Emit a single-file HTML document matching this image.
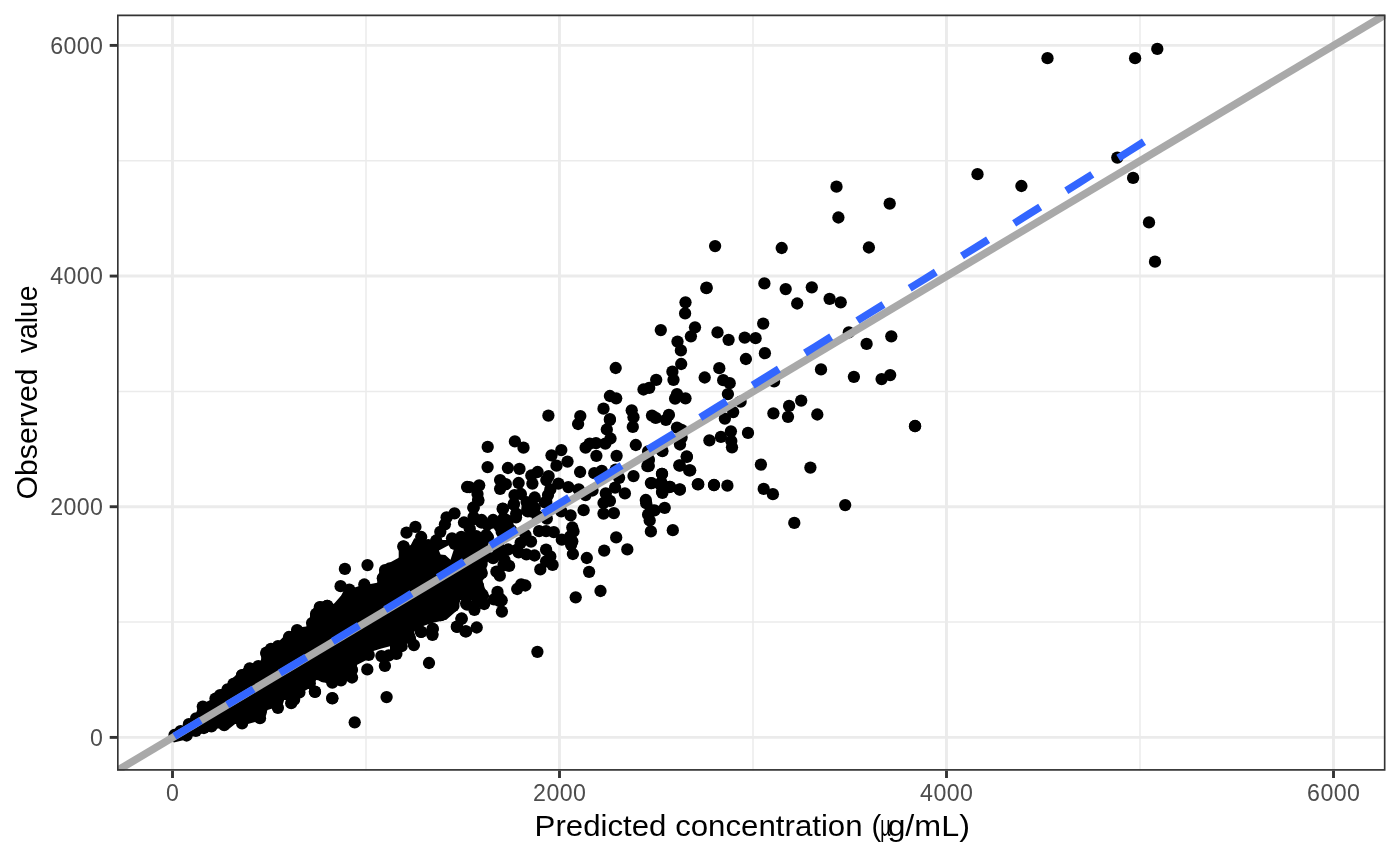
<!DOCTYPE html>
<html><head><meta charset="utf-8"><style>
html,body{margin:0;padding:0;background:#fff}
body{width:1400px;height:865px;overflow:hidden;font-family:"Liberation Sans",sans-serif}
svg{display:block;will-change:transform}
text{font-family:"Liberation Sans",sans-serif}
.t{font-size:23.2px;fill:#4d4d4d;letter-spacing:0.4px}
.ttl{font-size:29.3px;fill:#000}
</style></head><body>
<svg width="1400" height="865" viewBox="0 0 1400 865">
<rect width="1400" height="865" fill="#fff"/>
<defs><clipPath id="cp"><rect x="117.0" y="14.6" width="1268.5" height="756.1"/></clipPath></defs>
<g clip-path="url(#cp)">
<rect x="117.0" y="14.6" width="1268.5" height="756.1" fill="#fff"/>
<line x1="366.00" x2="366.00" y1="14.6" y2="770.7" stroke="#ebebeb" stroke-width="1.45"/>
<line y1="622.07" y2="622.07" x1="117.0" x2="1385.5" stroke="#ebebeb" stroke-width="1.45"/>
<line x1="753.00" x2="753.00" y1="14.6" y2="770.7" stroke="#ebebeb" stroke-width="1.45"/>
<line y1="391.40" y2="391.40" x1="117.0" x2="1385.5" stroke="#ebebeb" stroke-width="1.45"/>
<line x1="1140.00" x2="1140.00" y1="14.6" y2="770.7" stroke="#ebebeb" stroke-width="1.45"/>
<line y1="160.73" y2="160.73" x1="117.0" x2="1385.5" stroke="#ebebeb" stroke-width="1.45"/>
<line x1="172.50" x2="172.50" y1="14.6" y2="770.7" stroke="#ebebeb" stroke-width="2.9"/>
<line y1="737.40" y2="737.40" x1="117.0" x2="1385.5" stroke="#ebebeb" stroke-width="2.9"/>
<line x1="559.50" x2="559.50" y1="14.6" y2="770.7" stroke="#ebebeb" stroke-width="2.9"/>
<line y1="506.73" y2="506.73" x1="117.0" x2="1385.5" stroke="#ebebeb" stroke-width="2.9"/>
<line x1="946.50" x2="946.50" y1="14.6" y2="770.7" stroke="#ebebeb" stroke-width="2.9"/>
<line y1="276.07" y2="276.07" x1="117.0" x2="1385.5" stroke="#ebebeb" stroke-width="2.9"/>
<line x1="1333.50" x2="1333.50" y1="14.6" y2="770.7" stroke="#ebebeb" stroke-width="2.9"/>
<line y1="45.40" y2="45.40" x1="117.0" x2="1385.5" stroke="#ebebeb" stroke-width="2.9"/>
<g fill="#000">
<mask id="hm" maskUnits="userSpaceOnUse" x="0" y="0" width="1400" height="865"><rect width="1400" height="865" fill="#fff"/><polygon points="438.9,550.4 448.7,545.2 453.9,549.2 450.5,559.7 445.3,555.0 440.6,554.5" fill="#000"/></mask>
<g mask="url(#hm)"><polygon points="390.0,562.4 398.7,557.8 398.7,549.7 410.8,545.1 414.3,538.2 428.2,540.5 436.2,546.2 438.6,552.0 444.3,555.5 450.7,560.1 452.4,553.2 454.7,548.6 453.6,543.9 459.4,534.7 488.3,533.5 488.3,546.2 491.7,555.5 486.0,564.7 487.1,574.0 482.5,580.9 484.8,587.9 489.4,596.0 487.1,600.0 390.0,600.0"/><polygon points="390.0,600.0 459.4,600.0 454.7,609.2 445.5,617.3 433.9,622.0 424.7,625.4 416.6,626.6 413.1,634.7 403.9,642.8 400.4,648.6 396.9,654.3 390.0,657.8"/><polygon points="310.0,614.0 315.8,604.7 333.1,604.7 341.2,595.5 343.5,590.9 358.6,586.2 377.1,582.8 379.4,571.2 397.9,562.0 400.2,551.6 410.6,546.9 414.0,540.0 470.0,540.0 470.0,597.8 460.3,600.1 458.0,609.4 446.4,619.8 425.6,624.4 414.0,631.3 416.4,640.0 310.0,640.0"/><polygon points="230.0,680.9 236.9,674.0 246.2,665.9 260.1,662.4 262.4,655.5 264.7,649.7 276.2,643.9 285.5,634.7 295.9,627.7 306.3,626.6 308.6,619.7 313.2,611.6 317.9,605.8 330.6,603.5 341.0,604.6 342.1,600.0 390.0,600.0 390.0,646.2 381.4,648.6 373.4,650.9 371.0,657.8 357.2,664.7 354.9,674.0 343.3,683.2 331.7,685.5 321.3,680.9 315.5,679.8 314.4,685.5 304.0,691.3 301.7,696.0 294.7,700.0 230.0,700.0"/><polygon points="168.7,736.1 178.5,729.2 187.7,721.7 195.3,715.3 198.7,705.5 209.7,700.3 217.8,691.6 225.9,685.8 234.0,678.9 240.9,672.0 247.9,665.0 261.7,661.6 260.6,652.3 264.0,650.0 320.0,650.0 320.0,676.6 313.8,682.4 304.5,688.2 298.7,696.2 284.9,697.4 282.5,705.5 267.5,710.1 264.0,719.4 247.9,724.0 235.1,724.0 229.4,728.6 217.8,728.6 210.9,730.9 194.7,735.5 183.1,740.2 173.9,742.5"/></g>
<circle cx="332.3" cy="698.2" r="6.15"/>
<circle cx="354.7" cy="722.3" r="6.15"/>
<circle cx="477.9" cy="600.4" r="6.15"/>
<circle cx="662.4" cy="451.2" r="6.15"/>
<circle cx="686.7" cy="456.5" r="6.15"/>
<circle cx="679.8" cy="465.7" r="6.15"/>
<circle cx="648.6" cy="460.4" r="6.15"/>
<circle cx="647.4" cy="466.2" r="6.15"/>
<circle cx="633.5" cy="476.1" r="6.15"/>
<circle cx="662.0" cy="473.8" r="6.15"/>
<circle cx="690.2" cy="470.3" r="6.15"/>
<circle cx="650.9" cy="483.1" r="6.15"/>
<circle cx="661.3" cy="482.4" r="6.15"/>
<circle cx="669.4" cy="487.0" r="6.15"/>
<circle cx="679.8" cy="489.3" r="6.15"/>
<circle cx="698.3" cy="484.2" r="6.15"/>
<circle cx="714.0" cy="485.1" r="6.15"/>
<circle cx="662.4" cy="492.8" r="6.15"/>
<circle cx="467.1" cy="487.0" r="6.15"/>
<circle cx="646.2" cy="503.2" r="6.15"/>
<circle cx="664.7" cy="507.8" r="6.15"/>
<circle cx="650.9" cy="510.1" r="6.15"/>
<circle cx="649.7" cy="520.5" r="6.15"/>
<circle cx="650.9" cy="531.4" r="6.15"/>
<circle cx="672.8" cy="530.2" r="6.15"/>
<circle cx="572.3" cy="527.5" r="6.15"/>
<circle cx="553.8" cy="532.1" r="6.15"/>
<circle cx="616.2" cy="537.4" r="6.15"/>
<circle cx="604.2" cy="550.6" r="6.15"/>
<circle cx="627.3" cy="549.4" r="6.15"/>
<circle cx="572.3" cy="541.3" r="6.15"/>
<circle cx="561.8" cy="539.7" r="6.15"/>
<circle cx="571.1" cy="544.8" r="6.15"/>
<circle cx="572.9" cy="554.0" r="6.15"/>
<circle cx="550.3" cy="556.4" r="6.15"/>
<circle cx="586.8" cy="558.0" r="6.15"/>
<circle cx="552.6" cy="564.9" r="6.15"/>
<circle cx="589.1" cy="571.8" r="6.15"/>
<circle cx="501.7" cy="600.3" r="6.15"/>
<circle cx="600.5" cy="591.0" r="6.15"/>
<circle cx="575.7" cy="597.3" r="6.15"/>
<circle cx="685.5" cy="302.3" r="6.15"/>
<circle cx="685.1" cy="313.4" r="6.15"/>
<circle cx="660.8" cy="330.1" r="6.15"/>
<circle cx="695.0" cy="327.3" r="6.15"/>
<circle cx="690.9" cy="336.3" r="6.15"/>
<circle cx="677.5" cy="341.6" r="6.15"/>
<circle cx="680.9" cy="350.4" r="6.15"/>
<circle cx="717.5" cy="332.4" r="6.15"/>
<circle cx="728.6" cy="339.8" r="6.15"/>
<circle cx="744.7" cy="337.7" r="6.15"/>
<circle cx="755.6" cy="338.2" r="6.15"/>
<circle cx="763.2" cy="323.6" r="6.15"/>
<circle cx="797.2" cy="303.5" r="6.15"/>
<circle cx="829.6" cy="298.8" r="6.15"/>
<circle cx="840.7" cy="302.3" r="6.15"/>
<circle cx="848.8" cy="332.4" r="6.15"/>
<circle cx="866.6" cy="343.9" r="6.15"/>
<circle cx="891.3" cy="336.3" r="6.15"/>
<circle cx="764.9" cy="353.2" r="6.15"/>
<circle cx="745.9" cy="359.0" r="6.15"/>
<circle cx="719.3" cy="368.2" r="6.15"/>
<circle cx="681.2" cy="364.0" r="6.15"/>
<circle cx="672.4" cy="371.7" r="6.15"/>
<circle cx="673.5" cy="379.8" r="6.15"/>
<circle cx="656.2" cy="379.8" r="6.15"/>
<circle cx="649.2" cy="387.9" r="6.15"/>
<circle cx="643.5" cy="389.5" r="6.15"/>
<circle cx="704.7" cy="377.5" r="6.15"/>
<circle cx="723.2" cy="380.2" r="6.15"/>
<circle cx="729.7" cy="383.2" r="6.15"/>
<circle cx="727.9" cy="394.1" r="6.15"/>
<circle cx="774.1" cy="381.4" r="6.15"/>
<circle cx="821.0" cy="369.4" r="6.15"/>
<circle cx="853.9" cy="376.8" r="6.15"/>
<circle cx="881.6" cy="379.1" r="6.15"/>
<circle cx="890.2" cy="375.1" r="6.15"/>
<circle cx="677.0" cy="394.1" r="6.15"/>
<circle cx="675.1" cy="398.7" r="6.15"/>
<circle cx="685.5" cy="398.3" r="6.15"/>
<circle cx="740.6" cy="401.7" r="6.15"/>
<circle cx="733.2" cy="412.1" r="6.15"/>
<circle cx="724.9" cy="418.6" r="6.15"/>
<circle cx="652.0" cy="415.6" r="6.15"/>
<circle cx="655.7" cy="417.9" r="6.15"/>
<circle cx="668.9" cy="414.9" r="6.15"/>
<circle cx="665.9" cy="419.8" r="6.15"/>
<circle cx="677.0" cy="427.6" r="6.15"/>
<circle cx="681.6" cy="429.9" r="6.15"/>
<circle cx="801.2" cy="400.6" r="6.15"/>
<circle cx="789.1" cy="405.9" r="6.15"/>
<circle cx="773.4" cy="413.3" r="6.15"/>
<circle cx="788.0" cy="416.8" r="6.15"/>
<circle cx="817.3" cy="414.5" r="6.15"/>
<circle cx="915.1" cy="426.0" r="6.15"/>
<circle cx="730.9" cy="431.3" r="6.15"/>
<circle cx="720.9" cy="436.9" r="6.15"/>
<circle cx="709.4" cy="440.3" r="6.15"/>
<circle cx="731.3" cy="441.0" r="6.15"/>
<circle cx="732.0" cy="447.3" r="6.15"/>
<circle cx="748.0" cy="432.9" r="6.15"/>
<circle cx="680.0" cy="444.5" r="6.15"/>
<circle cx="681.6" cy="437.6" r="6.15"/>
<circle cx="662.0" cy="450.3" r="6.15"/>
<circle cx="648.1" cy="451.4" r="6.15"/>
<circle cx="686.9" cy="456.8" r="6.15"/>
<circle cx="679.3" cy="465.3" r="6.15"/>
<circle cx="689.2" cy="470.4" r="6.15"/>
<circle cx="648.8" cy="459.5" r="6.15"/>
<circle cx="648.8" cy="466.0" r="6.15"/>
<circle cx="662.0" cy="473.9" r="6.15"/>
<circle cx="651.6" cy="483.1" r="6.15"/>
<circle cx="660.3" cy="484.3" r="6.15"/>
<circle cx="670.1" cy="486.8" r="6.15"/>
<circle cx="679.8" cy="489.6" r="6.15"/>
<circle cx="662.0" cy="491.9" r="6.15"/>
<circle cx="697.8" cy="484.3" r="6.15"/>
<circle cx="714.0" cy="485.0" r="6.15"/>
<circle cx="727.4" cy="485.7" r="6.15"/>
<circle cx="760.9" cy="464.6" r="6.15"/>
<circle cx="810.4" cy="467.6" r="6.15"/>
<circle cx="763.7" cy="488.9" r="6.15"/>
<circle cx="772.9" cy="494.2" r="6.15"/>
<circle cx="645.8" cy="500.0" r="6.15"/>
<circle cx="836.5" cy="186.7" r="6.15"/>
<circle cx="889.7" cy="203.6" r="6.15"/>
<circle cx="838.4" cy="217.5" r="6.15"/>
<circle cx="715.1" cy="246.1" r="6.15"/>
<circle cx="781.7" cy="248.0" r="6.15"/>
<circle cx="868.9" cy="247.5" r="6.15"/>
<circle cx="706.6" cy="287.7" r="6.15"/>
<circle cx="764.4" cy="283.4" r="6.15"/>
<circle cx="785.7" cy="289.1" r="6.15"/>
<circle cx="811.8" cy="287.3" r="6.15"/>
<circle cx="1047.5" cy="58.2" r="6.15"/>
<circle cx="1135.1" cy="58.2" r="6.15"/>
<circle cx="1157.3" cy="48.9" r="6.15"/>
<circle cx="1117.3" cy="157.6" r="6.15"/>
<circle cx="977.5" cy="174.2" r="6.15"/>
<circle cx="1021.4" cy="186.0" r="6.15"/>
<circle cx="1133.1" cy="177.9" r="6.15"/>
<circle cx="1149.0" cy="222.4" r="6.15"/>
<circle cx="1155.0" cy="261.7" r="6.15"/>
<circle cx="706.4" cy="288.2" r="6.15"/>
<circle cx="615.7" cy="368.0" r="6.15"/>
<circle cx="609.9" cy="396.0" r="6.15"/>
<circle cx="616.2" cy="398.3" r="6.15"/>
<circle cx="603.5" cy="408.7" r="6.15"/>
<circle cx="609.9" cy="419.1" r="6.15"/>
<circle cx="631.7" cy="410.3" r="6.15"/>
<circle cx="633.5" cy="417.2" r="6.15"/>
<circle cx="632.8" cy="426.9" r="6.15"/>
<circle cx="635.8" cy="445.0" r="6.15"/>
<circle cx="580.3" cy="416.1" r="6.15"/>
<circle cx="548.4" cy="415.6" r="6.15"/>
<circle cx="915.0" cy="426.2" r="6.15"/>
<circle cx="845.2" cy="505.1" r="6.15"/>
<circle cx="794.3" cy="522.9" r="6.15"/>
<circle cx="406.5" cy="532.7" r="6.15"/>
<circle cx="415.4" cy="526.9" r="6.15"/>
<circle cx="403.6" cy="546.6" r="6.15"/>
<circle cx="440.3" cy="531.8" r="6.15"/>
<circle cx="444.9" cy="524.3" r="6.15"/>
<circle cx="446.6" cy="517.3" r="6.15"/>
<circle cx="454.5" cy="513.3" r="6.15"/>
<circle cx="473.5" cy="507.5" r="6.15"/>
<circle cx="478.4" cy="500.6" r="6.15"/>
<circle cx="464.0" cy="522.5" r="6.15"/>
<circle cx="473.8" cy="519.1" r="6.15"/>
<circle cx="481.3" cy="522.5" r="6.15"/>
<circle cx="469.8" cy="528.9" r="6.15"/>
<circle cx="492.9" cy="522.5" r="6.15"/>
<circle cx="502.7" cy="508.7" r="6.15"/>
<circle cx="513.7" cy="504.6" r="6.15"/>
<circle cx="516.0" cy="517.3" r="6.15"/>
<circle cx="505.6" cy="519.7" r="6.15"/>
<circle cx="499.8" cy="526.6" r="6.15"/>
<circle cx="527.6" cy="506.9" r="6.15"/>
<circle cx="532.2" cy="511.6" r="6.15"/>
<circle cx="544.9" cy="502.3" r="6.15"/>
<circle cx="539.1" cy="531.2" r="6.15"/>
<circle cx="546.1" cy="531.2" r="6.15"/>
<circle cx="531.0" cy="541.6" r="6.15"/>
<circle cx="520.6" cy="542.8" r="6.15"/>
<circle cx="517.2" cy="549.7" r="6.15"/>
<circle cx="526.4" cy="554.3" r="6.15"/>
<circle cx="534.5" cy="555.5" r="6.15"/>
<circle cx="546.1" cy="549.7" r="6.15"/>
<circle cx="546.1" cy="561.3" r="6.15"/>
<circle cx="540.3" cy="569.4" r="6.15"/>
<circle cx="501.0" cy="552.0" r="6.15"/>
<circle cx="504.5" cy="560.1" r="6.15"/>
<circle cx="509.1" cy="565.9" r="6.15"/>
<circle cx="496.4" cy="571.7" r="6.15"/>
<circle cx="499.8" cy="575.7" r="6.15"/>
<circle cx="517.2" cy="589.0" r="6.15"/>
<circle cx="525.3" cy="585.5" r="6.15"/>
<circle cx="521.2" cy="584.4" r="6.15"/>
<circle cx="497.5" cy="591.9" r="6.15"/>
<circle cx="499.8" cy="598.3" r="6.15"/>
<circle cx="480.2" cy="564.7" r="6.15"/>
<circle cx="481.3" cy="572.8" r="6.15"/>
<circle cx="477.9" cy="585.5" r="6.15"/>
<circle cx="482.5" cy="594.8" r="6.15"/>
<circle cx="421.2" cy="537.0" r="6.15"/>
<circle cx="454.7" cy="543.9" r="6.15"/>
<circle cx="461.7" cy="539.3" r="6.15"/>
<circle cx="470.9" cy="538.2" r="6.15"/>
<circle cx="480.2" cy="538.2" r="6.15"/>
<circle cx="461.7" cy="550.9" r="6.15"/>
<circle cx="459.4" cy="557.8" r="6.15"/>
<circle cx="436.2" cy="540.5" r="6.15"/>
<circle cx="428.2" cy="545.1" r="6.15"/>
<circle cx="432.8" cy="548.6" r="6.15"/>
<circle cx="537.4" cy="651.8" r="6.15"/>
<circle cx="429.0" cy="663.0" r="6.15"/>
<circle cx="413.9" cy="645.1" r="6.15"/>
<circle cx="421.2" cy="631.8" r="6.15"/>
<circle cx="432.8" cy="628.9" r="6.15"/>
<circle cx="432.2" cy="634.1" r="6.15"/>
<circle cx="396.4" cy="653.8" r="6.15"/>
<circle cx="461.7" cy="618.5" r="6.15"/>
<circle cx="457.1" cy="626.8" r="6.15"/>
<circle cx="465.5" cy="631.4" r="6.15"/>
<circle cx="476.7" cy="627.5" r="6.15"/>
<circle cx="501.9" cy="611.6" r="6.15"/>
<circle cx="499.8" cy="601.2" r="6.15"/>
<circle cx="494.0" cy="599.4" r="6.15"/>
<circle cx="484.2" cy="604.0" r="6.15"/>
<circle cx="474.4" cy="609.8" r="6.15"/>
<circle cx="467.2" cy="604.6" r="6.15"/>
<circle cx="452.4" cy="605.8" r="6.15"/>
<circle cx="440.9" cy="615.0" r="6.15"/>
<circle cx="429.3" cy="617.3" r="6.15"/>
<circle cx="409.7" cy="638.2" r="6.15"/>
<circle cx="401.6" cy="646.2" r="6.15"/>
<circle cx="344.9" cy="568.9" r="6.15"/>
<circle cx="367.5" cy="565.1" r="6.15"/>
<circle cx="403.4" cy="546.4" r="6.15"/>
<circle cx="340.6" cy="586.2" r="6.15"/>
<circle cx="349.3" cy="589.7" r="6.15"/>
<circle cx="364.3" cy="584.5" r="6.15"/>
<circle cx="385.1" cy="570.1" r="6.15"/>
<circle cx="389.8" cy="568.3" r="6.15"/>
<circle cx="382.8" cy="578.2" r="6.15"/>
<circle cx="327.3" cy="605.9" r="6.15"/>
<circle cx="319.8" cy="607.1" r="6.15"/>
<circle cx="345.8" cy="600.1" r="6.15"/>
<circle cx="337.7" cy="609.4" r="6.15"/>
<circle cx="461.4" cy="619.0" r="6.15"/>
<circle cx="456.8" cy="626.7" r="6.15"/>
<circle cx="466.1" cy="631.3" r="6.15"/>
<circle cx="466.1" cy="603.6" r="6.15"/>
<circle cx="432.5" cy="629.0" r="6.15"/>
<circle cx="421.0" cy="631.9" r="6.15"/>
<circle cx="432.5" cy="634.8" r="6.15"/>
<circle cx="453.4" cy="605.9" r="6.15"/>
<circle cx="440.6" cy="615.1" r="6.15"/>
<circle cx="233.5" cy="683.8" r="6.15"/>
<circle cx="242.1" cy="675.1" r="6.15"/>
<circle cx="250.2" cy="668.8" r="6.15"/>
<circle cx="258.9" cy="667.1" r="6.15"/>
<circle cx="266.4" cy="652.6" r="6.15"/>
<circle cx="278.0" cy="646.2" r="6.15"/>
<circle cx="289.0" cy="637.0" r="6.15"/>
<circle cx="297.1" cy="630.1" r="6.15"/>
<circle cx="312.1" cy="623.1" r="6.15"/>
<circle cx="316.1" cy="613.9" r="6.15"/>
<circle cx="320.8" cy="607.5" r="6.15"/>
<circle cx="327.1" cy="605.8" r="6.15"/>
<circle cx="337.5" cy="609.8" r="6.15"/>
<circle cx="345.6" cy="602.3" r="6.15"/>
<circle cx="315.0" cy="691.9" r="6.15"/>
<circle cx="332.3" cy="698.3" r="6.15"/>
<circle cx="386.6" cy="697.1" r="6.15"/>
<circle cx="367.3" cy="669.4" r="6.15"/>
<circle cx="352.0" cy="677.5" r="6.15"/>
<circle cx="352.0" cy="669.9" r="6.15"/>
<circle cx="341.0" cy="680.3" r="6.15"/>
<circle cx="332.3" cy="682.7" r="6.15"/>
<circle cx="323.6" cy="676.3" r="6.15"/>
<circle cx="384.9" cy="665.9" r="6.15"/>
<circle cx="381.4" cy="656.1" r="6.15"/>
<circle cx="368.7" cy="654.9" r="6.15"/>
<circle cx="299.4" cy="692.5" r="6.15"/>
<circle cx="309.8" cy="683.2" r="6.15"/>
<circle cx="293.6" cy="699.4" r="6.15"/>
<circle cx="174.5" cy="735.0" r="6.15"/>
<circle cx="180.6" cy="731.2" r="6.15"/>
<circle cx="188.9" cy="724.2" r="6.15"/>
<circle cx="196.1" cy="718.4" r="6.15"/>
<circle cx="202.8" cy="706.6" r="6.15"/>
<circle cx="215.5" cy="698.6" r="6.15"/>
<circle cx="220.1" cy="695.1" r="6.15"/>
<circle cx="227.6" cy="689.3" r="6.15"/>
<circle cx="235.1" cy="683.5" r="6.15"/>
<circle cx="242.1" cy="675.4" r="6.15"/>
<circle cx="249.6" cy="668.5" r="6.15"/>
<circle cx="258.3" cy="666.2" r="6.15"/>
<circle cx="266.4" cy="653.5" r="6.15"/>
<circle cx="271.0" cy="648.8" r="6.15"/>
<circle cx="186.6" cy="735.5" r="6.15"/>
<circle cx="195.8" cy="730.9" r="6.15"/>
<circle cx="203.9" cy="728.0" r="6.15"/>
<circle cx="211.4" cy="726.3" r="6.15"/>
<circle cx="224.2" cy="725.1" r="6.15"/>
<circle cx="242.1" cy="723.4" r="6.15"/>
<circle cx="260.0" cy="718.2" r="6.15"/>
<circle cx="260.6" cy="712.4" r="6.15"/>
<circle cx="277.9" cy="707.8" r="6.15"/>
<circle cx="291.2" cy="703.2" r="6.15"/>
<circle cx="294.1" cy="699.7" r="6.15"/>
<circle cx="314.9" cy="691.6" r="6.15"/>
<circle cx="298.7" cy="690.5" r="6.15"/>
<circle cx="487.7" cy="446.9" r="6.15"/>
<circle cx="514.9" cy="441.4" r="6.15"/>
<circle cx="523.5" cy="447.7" r="6.15"/>
<circle cx="487.6" cy="467.1" r="6.15"/>
<circle cx="507.9" cy="468.0" r="6.15"/>
<circle cx="519.5" cy="468.9" r="6.15"/>
<circle cx="531.3" cy="475.5" r="6.15"/>
<circle cx="537.6" cy="472.0" r="6.15"/>
<circle cx="548.6" cy="476.1" r="6.15"/>
<circle cx="546.3" cy="480.1" r="6.15"/>
<circle cx="561.3" cy="450.1" r="6.15"/>
<circle cx="551.5" cy="455.3" r="6.15"/>
<circle cx="567.5" cy="461.6" r="6.15"/>
<circle cx="556.5" cy="465.7" r="6.15"/>
<circle cx="578.1" cy="424.0" r="6.15"/>
<circle cx="609.9" cy="420.0" r="6.15"/>
<circle cx="606.8" cy="429.5" r="6.15"/>
<circle cx="610.5" cy="438.5" r="6.15"/>
<circle cx="605.3" cy="443.7" r="6.15"/>
<circle cx="596.0" cy="443.1" r="6.15"/>
<circle cx="589.7" cy="443.7" r="6.15"/>
<circle cx="585.6" cy="447.7" r="6.15"/>
<circle cx="596.4" cy="455.8" r="6.15"/>
<circle cx="616.6" cy="455.8" r="6.15"/>
<circle cx="580.1" cy="472.0" r="6.15"/>
<circle cx="594.3" cy="473.2" r="6.15"/>
<circle cx="601.8" cy="470.9" r="6.15"/>
<circle cx="615.7" cy="469.7" r="6.15"/>
<circle cx="619.1" cy="477.8" r="6.15"/>
<circle cx="615.1" cy="487.6" r="6.15"/>
<circle cx="605.8" cy="493.4" r="6.15"/>
<circle cx="624.9" cy="493.4" r="6.15"/>
<circle cx="603.5" cy="503.0" r="6.15"/>
<circle cx="609.9" cy="500.9" r="6.15"/>
<circle cx="603.5" cy="513.6" r="6.15"/>
<circle cx="613.9" cy="513.1" r="6.15"/>
<circle cx="583.6" cy="510.2" r="6.15"/>
<circle cx="570.6" cy="515.4" r="6.15"/>
<circle cx="561.3" cy="511.3" r="6.15"/>
<circle cx="585.6" cy="495.1" r="6.15"/>
<circle cx="592.5" cy="490.5" r="6.15"/>
<circle cx="578.7" cy="489.4" r="6.15"/>
<circle cx="568.3" cy="487.1" r="6.15"/>
<circle cx="558.4" cy="483.6" r="6.15"/>
<circle cx="550.3" cy="489.4" r="6.15"/>
<circle cx="548.0" cy="495.1" r="6.15"/>
<circle cx="546.3" cy="502.1" r="6.15"/>
<circle cx="534.7" cy="497.5" r="6.15"/>
<circle cx="532.4" cy="483.6" r="6.15"/>
<circle cx="518.6" cy="483.0" r="6.15"/>
<circle cx="520.9" cy="494.0" r="6.15"/>
<circle cx="514.5" cy="495.1" r="6.15"/>
<circle cx="513.9" cy="503.8" r="6.15"/>
<circle cx="526.6" cy="502.1" r="6.15"/>
<circle cx="527.8" cy="511.3" r="6.15"/>
<circle cx="534.7" cy="507.9" r="6.15"/>
<circle cx="502.9" cy="509.0" r="6.15"/>
<circle cx="516.2" cy="513.6" r="6.15"/>
<circle cx="505.8" cy="484.2" r="6.15"/>
<circle cx="500.1" cy="480.1" r="6.15"/>
<circle cx="500.1" cy="488.8" r="6.15"/>
<circle cx="479.2" cy="485.3" r="6.15"/>
<circle cx="469.4" cy="487.1" r="6.15"/>
<circle cx="477.5" cy="494.0" r="6.15"/>
<circle cx="478.1" cy="499.8" r="6.15"/>
<circle cx="473.5" cy="507.9" r="6.15"/>
<circle cx="473.5" cy="517.1" r="6.15"/>
<circle cx="481.6" cy="520.0" r="6.15"/>
<circle cx="493.1" cy="520.0" r="6.15"/>
<circle cx="503.5" cy="518.3" r="6.15"/>
<circle cx="573.5" cy="531.4" r="6.15"/>
<circle cx="570.3" cy="536.4" r="6.15"/>
<circle cx="654.5" cy="510.3" r="6.15"/>
<circle cx="648.1" cy="514.7" r="6.15"/>
<circle cx="507.5" cy="524.4" r="6.15"/>
<circle cx="511.0" cy="530.2" r="6.15"/>
<circle cx="501.7" cy="531.9" r="6.15"/>
<circle cx="546.8" cy="518.6" r="6.15"/>
<circle cx="537.6" cy="516.3" r="6.15"/>
<circle cx="452.0" cy="538.3" r="6.15"/>
<circle cx="461.3" cy="536.9" r="6.15"/>
<circle cx="476.3" cy="536.2" r="6.15"/>
<circle cx="487.9" cy="537.3" r="6.15"/>
<circle cx="527.2" cy="510.5" r="6.15"/>
<circle cx="498.3" cy="553.5" r="6.15"/>
<circle cx="503.5" cy="565.1" r="6.15"/>
<circle cx="508.2" cy="549.5" r="6.15"/>
<circle cx="525.5" cy="535.0" r="6.15"/>
<circle cx="518.6" cy="552.4" r="6.15"/>
<circle cx="498.9" cy="547.7" r="6.15"/>
<circle cx="487.3" cy="524.6" r="6.15"/>
<circle cx="486.2" cy="535.0" r="6.15"/>
<circle cx="493.1" cy="558.2" r="6.15"/>
<circle cx="481.6" cy="563.9" r="6.15"/>
<circle cx="481.6" cy="573.2" r="6.15"/>
<circle cx="388.8" cy="655.3" r="6.15"/>
</g>
<line x1="117.0" y1="770.7" x2="1385.5" y2="14.6" stroke="#a9a9a9" stroke-width="7.6"/>
<polyline points="174.40,736.26 190.83,726.45 207.27,716.63 223.70,706.81 240.14,696.97 256.57,687.10 273.00,677.24 289.44,667.37 305.87,657.51 322.31,647.64 338.74,637.78 355.17,627.84 371.61,617.86 388.04,607.88 404.47,597.89 420.91,587.91 437.34,577.89 453.78,567.86 470.21,557.83 486.64,547.80 503.08,537.77 519.51,527.75 535.95,517.74 552.38,507.72 568.81,497.70 585.25,487.68 601.68,477.66 618.12,467.63 634.55,457.59 650.98,447.54 667.42,437.50 683.85,427.46 700.28,417.42 716.72,407.35 733.15,397.23 749.59,387.11 766.02,376.99 782.45,366.87 798.89,356.75 815.32,346.63 831.76,336.47 848.19,326.30 864.62,316.13 881.06,305.97 897.49,295.80 913.93,285.63 930.36,275.46 946.79,265.29 963.23,255.12 979.66,244.92 996.09,234.63 1012.53,224.35 1028.96,214.07 1045.40,203.79 1061.83,193.51 1078.26,183.23 1094.70,172.87 1111.13,162.51 1127.57,152.14 1144.00,141.75" fill="none" stroke="#3366ff" stroke-width="7.6" stroke-dasharray="30.75 30.75"/>
<rect x="117.0" y="14.6" width="1268.5" height="756.1" fill="none" stroke="#333" stroke-width="3.3"/>
</g>
<g stroke="#333" stroke-width="2.9">
<line x1="172.50" x2="172.50" y1="770.7" y2="778.0"/>
<line y1="737.40" y2="737.40" x1="109.7" x2="117.0"/>
<line x1="559.50" x2="559.50" y1="770.7" y2="778.0"/>
<line y1="506.73" y2="506.73" x1="109.7" x2="117.0"/>
<line x1="946.50" x2="946.50" y1="770.7" y2="778.0"/>
<line y1="276.07" y2="276.07" x1="109.7" x2="117.0"/>
<line x1="1333.50" x2="1333.50" y1="770.7" y2="778.0"/>
<line y1="45.40" y2="45.40" x1="109.7" x2="117.0"/>
</g>
<text class="t" x="172.7" y="800.7" text-anchor="middle">0</text>
<text class="t" x="103.4" y="745.6" text-anchor="end">0</text>
<text class="t" x="559.7" y="800.7" text-anchor="middle">2000</text>
<text class="t" x="103.4" y="514.9" text-anchor="end">2000</text>
<text class="t" x="946.7" y="800.7" text-anchor="middle">4000</text>
<text class="t" x="103.4" y="284.3" text-anchor="end">4000</text>
<text class="t" x="1333.7" y="800.7" text-anchor="middle">6000</text>
<text class="t" x="103.4" y="53.6" text-anchor="end">6000</text>
<text class="ttl" x="534.6" y="835.8" textLength="328" lengthAdjust="spacingAndGlyphs">Predicted concentration</text>
<text class="ttl" x="871.6" y="835.8">(</text>
<text class="ttl" x="880.2" y="835.8" textLength="10.5" lengthAdjust="spacingAndGlyphs">µ</text>
<text class="ttl" x="887.4" y="835.8" textLength="82.5" lengthAdjust="spacingAndGlyphs">g/mL)</text>
<text class="ttl" transform="translate(36.8,499.5) rotate(-90)" textLength="131" lengthAdjust="spacingAndGlyphs">Observed</text>
<text class="ttl" transform="translate(36.8,353) rotate(-90)" textLength="67.5" lengthAdjust="spacingAndGlyphs">value</text>
</svg></body></html>
